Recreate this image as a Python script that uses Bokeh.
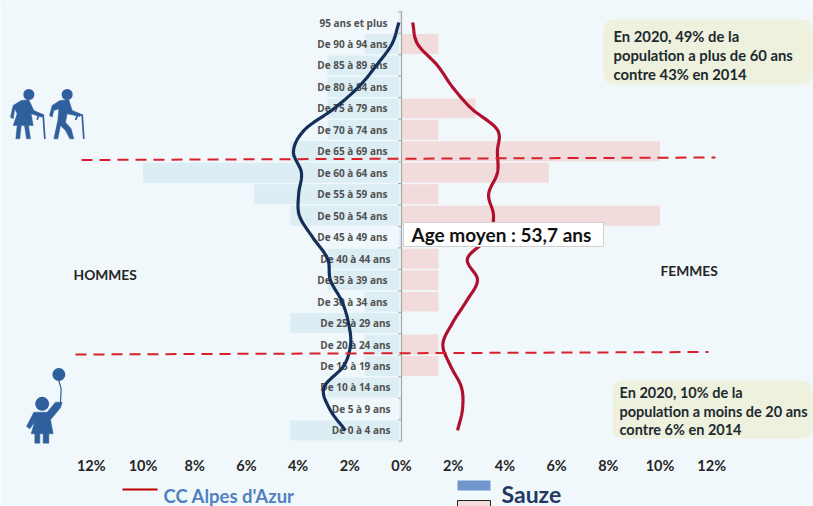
from bokeh.plotting import figure
from bokeh.layouts import column
from bokeh.embed import file_html
from bokeh.resources import INLINE
from bokeh.models import Label, BoxAnnotation, FixedTicker
from bokeh.core.properties import value
import numpy as np

ages = ["95 ans et plus", "De 90 à 94 ans", "De 85 à 89 ans", "De 80 à 84 ans", "De 75 à 79 ans",
        "De 70 à 74 ans", "De 65 à 69 ans", "De 60 à 64 ans", "De 55 à 59 ans", "De 50 à 54 ans",
        "De 45 à 49 ans", "De 40 à 44 ans", "De 35 à 39 ans", "De 30 à 34 ans", "De 25 à 29 ans",
        "De 20 à 24 ans", "De 15 à 19 ans", "De 10 à 14 ans", "De 5 à 9 ans", "De 0 à 4 ans"]
sauze_men = [0, 1.43, 2.86, 2.86, 2.86, 2.86, 4.3, 10, 5.7, 4.3,
             0, 2.86, 2.86, 1.43, 4.3, 1.43, 1.43, 2.86, 0, 4.3]
sauze_women = [0, 1.43, 0, 0, 2.86, 1.43, 10, 5.7, 1.43, 10,
               0, 1.43, 1.43, 1.43, 0, 1.43, 1.43, 0, 0, 0]
cc_men = [0.1, 0.37, 0.97, 1.66, 2.6, 3.75, 4.18, 3.87, 3.98, 3.95,
          3.44, 2.86, 2.75, 2.3, 2.05, 1.97, 2.24, 3.0, 2.78, 2.17]
cc_women = [0.43, 0.62, 1.39, 1.97, 2.7, 3.71, 3.71, 3.71, 3.37, 3.56,
            3.37, 2.55, 2.94, 2.5, 1.97, 1.6, 1.9, 2.32, 2.36, 2.17]
x_ticks = [-12, -10, -8, -6, -4, -2, 0, 2, 4, 6, 8, 10, 12]

# Page geometry: reference pixel -> data
W, H = 813, 506
FRAME_BOTTOM, CHART_H = 452, 476
PX_PER_PCT, PX_PER_ROW = 25.85, 21.47
X0, Y0 = 401.0, 22.0
def dx(px): return (px - X0) / PX_PER_PCT
def dy(py): return (py - Y0) / PX_PER_ROW

BG = "#f1f8fb"
chart = figure(width=W, height=CHART_H, output_backend="svg", toolbar_location=None,
               x_range=(dx(0), dx(W)), y_range=(dy(FRAME_BOTTOM), dy(0)),
               y_axis_location=None, background_fill_color=BG, border_fill_color=BG,
               min_border_left=0, min_border_right=0, min_border_top=0, min_border_bottom=CHART_H - FRAME_BOTTOM)
chart.outline_line_color = None
chart.grid.visible = False

ax = chart.xaxis[0]
ax.ticker = FixedTicker(ticks=x_ticks)
ax.major_label_overrides = {t: f"{abs(t)}%" for t in x_ticks}
ax.axis_line_color = None
ax.major_tick_line_color = None
ax.minor_tick_line_color = None
ax.major_tick_out = 0
ax.major_tick_in = 0
ax.minor_tick_out = 0
ax.major_label_standoff = 4
ax.major_label_text_font = "Lato"
ax.major_label_text_font_style = "bold"
ax.major_label_text_font_size = "14.5px"
ax.major_label_text_color = "#262626"

rows = np.arange(len(ages))

def smooth(vals, n=12):
    """Catmull-Rom rendering of the line, as a smoothed spreadsheet line."""
    v = np.array(vals, dtype=float)
    v = np.concatenate([[2 * v[0] - v[1]], v, [2 * v[-1] - v[-2]]])
    ys, xs = [], []
    for i in range(1, len(v) - 2):
        for t in np.linspace(0, 1, n, endpoint=False):
            a, b, c, d = v[i - 1], v[i], v[i + 1], v[i + 2]
            xs.append(0.5 * (2 * b + (c - a) * t + (2 * a - 5 * b + 4 * c - d) * t ** 2 + (3 * b - a - 3 * c + d) * t ** 3))
            ys.append(i - 1 + t)
    xs.append(vals[-1]); ys.append(len(vals) - 1)
    return np.array(xs), np.array(ys)

# bars
chart.hbar(y=rows, left=-np.array(sauze_men), right=-0.09, height=0.93, fill_color="#dcedf4", line_color=None)
chart.hbar(y=rows, left=0.02, right=np.array(sauze_women), height=0.93, fill_color="#f2dcdb", line_color=None)

# central axis
chart.segment(x0=[0], y0=[-0.52], x1=[0], y1=[19.52], line_color="#a6a6a6", line_width=1.2)
bounds = np.arange(-0.5, 20, 1.0)
chart.segment(x0=[-0.13] * len(bounds), y0=bounds, x1=[0] * len(bounds), y1=bounds, line_color="#a6a6a6", line_width=1)

# age labels
label_end = [dx(387) if i < 11 or i in (12, 13) else dx(390) for i in rows]
chart.text(x=label_end, y=rows, text=ages, text_align="right", text_baseline="middle",
           text_font=value("Open Sans"), text_font_style="bold", text_font_size="10px", text_color="#505050")

# curves
mx, my = smooth(cc_men)
chart.line(-mx, my, line_color="#14305a", line_width=3.2)
wx, wy = smooth(cc_women)
chart.line(wx, wy, line_color="#b10f2e", line_width=3.2)

# 60 and 20 year thresholds
chart.line([dx(81), dx(715)], [dy(159.5), dy(157)], line_color="#d8202a", line_width=2, line_dash="11 7")
chart.line([dx(75), dx(708)], [dy(354), dy(351.5)], line_color="#d8202a", line_width=2, line_dash="11 7")

# pictograms
ICON = "#2f5f9c"
def zoomed(pts, sx, sy):
    return [dx(sx + a / 3) for a, b in pts], [dy(sy + b / 3) for a, b in pts]

def shape(pts, sx, sy):
    xs, ys = zoomed(pts, sx, sy)
    chart.patch(xs, ys, fill_color=ICON, line_color=ICON, line_width=0.5)

def stroke(pts, sx, sy, w=1.7):
    xs, ys = zoomed(pts, sx, sy)
    chart.line(xs, ys, line_color=ICON, line_width=w)

def dot(a, b, sx, sy, size):
    chart.scatter([dx(sx + a / 3)], [dy(sy + b / 3)], size=size, marker="circle", fill_color=ICON, line_color=None)

dot(85, 42, 0, 80, 11)
shape([(62, 60), (85, 58), (100, 90), (128, 102), (125, 110), (92, 100), (98, 135), (38, 135), (50, 100),
       (43, 85), (38, 115), (30, 110), (38, 75)], 0, 80)
shape([(50, 135), (62, 135), (58, 175), (46, 175)], 0, 80)
shape([(72, 135), (84, 135), (90, 175), (78, 175)], 0, 80)
stroke([(110, 118), (115, 103), (128, 103), (133, 175)], 0, 80)
dot(200, 42, 0, 80, 11)
shape([(178, 60), (205, 58), (215, 90), (240, 100), (238, 108), (210, 102), (200, 100), (195, 125), (212, 145),
       (220, 175), (208, 175), (195, 150), (180, 135), (172, 175), (160, 175), (172, 120), (175, 85), (160, 90),
       (155, 110), (147, 105), (155, 75)], 0, 80)
stroke([(225, 118), (232, 103), (245, 103), (250, 175)], 0, 80)

dot(145, 42, 10, 360, 13)
stroke([(145, 60), (152, 85), (150, 125)], 10, 360, 1.2)
dot(95, 130, 10, 360, 14)
shape([(70, 155), (110, 155), (135, 125), (155, 125), (150, 142), (120, 178), (128, 220), (115, 220), (115, 248),
       (98, 248), (98, 220), (88, 220), (88, 248), (73, 248), (73, 220), (62, 220), (72, 185), (58, 205), (48, 198)],
      10, 360)

# callout boxes and texts
def box(l, r, t, b, fill, line=None, radius=0):
    chart.add_layout(BoxAnnotation(left=dx(l), right=dx(r), top=dy(t), bottom=dy(b), fill_color=fill, fill_alpha=1,
                                   line_color=line, line_alpha=1 if line else 0, border_radius=radius, level="annotation"))

def label(x, y, text, size, color="#1e2a2e", font="Lato", align="left"):
    chart.add_layout(Label(x=dx(x), y=dy(y), text=text, text_font=font, text_font_style="bold",
                           text_font_size=f"{size}px", text_color=color, text_align=align, text_baseline="middle"))

box(603, 812, 19, 84, "#edf1de", radius=10)
label(613, 35, "En 2020,  49% de la", 14.8)
label(613, 54, "population a plus de 60 ans", 14.8)
label(613, 73, "contre 43% en 2014", 14.8)

box(612, 812, 380, 438, "#edf1de", radius=10)
label(619, 392, "En 2020, 10% de la", 14.5)
label(619, 411, "population a moins de 20 ans", 14.5)
label(619, 429, "contre 6% en 2014", 14.5)

box(403, 603, 222, 246, "#ffffff", line="#d0d0d0")
label(411, 234, "Age moyen : 53,7 ans", 19, color="#111111")

label(73, 274, "HOMMES", 13.8, color="#262626")
label(660, 270, "FEMMES", 13.8, color="#262626")

# legend strip
strip = figure(width=W, height=H - CHART_H, output_backend="svg", toolbar_location=None,
               x_range=(dx(0), dx(W)), y_range=(H, CHART_H), x_axis_location=None, y_axis_location=None,
               background_fill_color=BG, border_fill_color=BG,
               min_border_left=0, min_border_right=0, min_border_top=0, min_border_bottom=0)
strip.outline_line_color = None
strip.grid.visible = False

def legend_text(x, y, text, size, color):
    strip.text(x=[dx(x)], y=[y], text=[text], text_align="left", text_baseline="middle",
               text_font=value("Lato"), text_font_style="bold", text_font_size=f"{size}px", text_color=color)

strip.line([dx(122), dx(157)], [489, 489], line_color="#c00000", line_width=2)
legend_text(163, 495, "CC Alpes d'Azur", 18.5, "#4f81bd")
strip.quad(left=dx(457), right=dx(490), top=480, bottom=490, fill_color="#6f97cb", line_color=None)
strip.quad(left=dx(457), right=dx(490), top=500, bottom=510, fill_color="#f2dcdb", line_color="#222222", line_width=1)
legend_text(501, 493, "Sauze", 23, "#1f3864")

p = column(chart, strip, spacing=0)

open("out.html", "w").write(file_html(p, INLINE))
